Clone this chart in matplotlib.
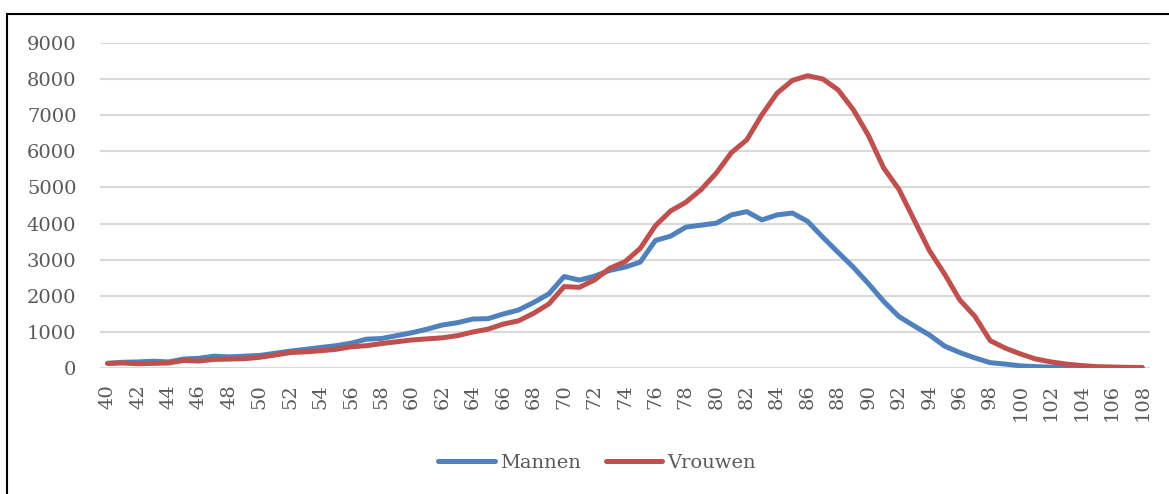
import matplotlib
matplotlib.use("Agg")
import matplotlib.pyplot as plt
import numpy as np

ages = list(range(40, 109))

mannen = [120, 150, 160, 180, 160, 240, 260, 320, 300, 320,
          340, 400, 460, 510, 560, 610, 680, 790, 810, 890,
          970, 1070, 1185, 1250, 1350, 1360, 1490, 1600, 1810, 2050,
          2530, 2430, 2540, 2700, 2790, 2930, 3530, 3650, 3900, 3955,
          4010, 4240, 4330, 4100, 4240, 4290, 4060, 3620, 3200, 2790,
          2330, 1840, 1420, 1160, 910, 600, 420, 270, 140, 100,
          50, 30, 15, 8, 3, None, None, None, None]

vrouwen = [120, 130, 110, 120, 130, 200, 185, 230, 240, 250,
           290, 350, 420, 440, 470, 510, 580, 610, 670, 720,
           770, 800, 830, 890, 990, 1070, 1210, 1300, 1510, 1770,
           2250, 2230, 2435, 2760, 2940, 3310, 3940, 4350, 4590, 4940,
           5400, 5970, 6320, 7020, 7620, 7970, 8100, 8010, 7710, 7160,
           6440, 5540, 4950, 4100, 3250, 2600, 1880, 1420, 750, 540,
           380, 240, 160, 100, 60, 30, 20, 10, 5]

text_color = "#595959"
plt.rcParams["font.family"] = ["DejaVu Serif"]

fig = plt.figure(figsize=(11.69, 4.94), dpi=100)
ax = fig.add_axes([100 / 1169, 1 - 367.7 / 494, 1050 / 1169, 324.4 / 494])

# outer chart border (only top/left visible in the crop)
fig.patches.append(plt.Rectangle((7 / 1169, -0.2), 1.2, 1 - 14 / 494 + 0.2,
                                 transform=fig.transFigure, fill=False,
                                 edgecolor="black", linewidth=1.5))

x = np.arange(len(ages))
m = np.array([np.nan if v is None else v for v in mannen], dtype=float)
v = np.array(vrouwen, dtype=float)

ax.plot(x, m, color="#4f81bd", linewidth=3.6, solid_capstyle="round",
        solid_joinstyle="round", label="Mannen", zorder=3)
ax.plot(x, v, color="#c0504d", linewidth=3.6, solid_capstyle="round",
        solid_joinstyle="round", label="Vrouwen", zorder=4)

ax.set_xlim(-0.5, len(ages) - 0.5)
ax.set_ylim(0, 9000)
ax.set_yticks(range(0, 9001, 1000))
ax.set_xticks(x[::2])
ax.set_xticklabels([str(a) for a in ages[::2]], rotation=90)

ax.grid(axis="y", color="#d9d9d9", linewidth=1.5)
ax.set_axisbelow(True)
for s in ax.spines.values():
    s.set_visible(False)
ax.tick_params(axis="both", length=0, labelsize=14, colors=text_color)
ax.tick_params(axis="y", pad=17)
ax.tick_params(axis="x", pad=12)

fig.legend(loc="center", bbox_to_anchor=(597 / 1169, 1 - 463 / 494), ncol=2,
           frameon=False, fontsize=14, handlelength=2.9, handletextpad=0.25,
           columnspacing=1.3, labelcolor=text_color)

fig.savefig("out.png", dpi=100)
